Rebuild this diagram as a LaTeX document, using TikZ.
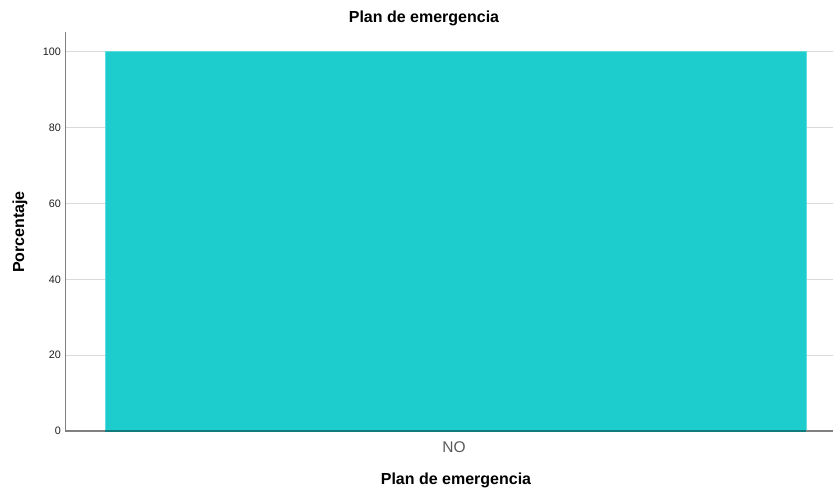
\documentclass[tikz,border=0pt]{standalone}
\usepackage{fontspec}
\setmainfont{Liberation Sans}
\definecolor{barc}{RGB}{29,205,205}
\definecolor{gridc}{RGB}{217,217,217}
\definecolor{axisc}{RGB}{128,128,128}
\definecolor{txtc}{RGB}{30,30,30}
\begin{document}
\begin{tikzpicture}[x=1pt,y=-1pt,
  ticklab/.style={anchor=east,font=\fontsize{10.8}{12}\selectfont,text=txtc,inner sep=0pt},
  titlelab/.style={font=\fontsize{16}{19}\selectfont\bfseries,text=black,inner sep=0pt},
  gridline/.style={draw=gridc,line width=1.2pt},
  axisline/.style={draw=axisc,line width=1.2pt}]
\useasboundingbox (0,0) rectangle (833,488);
% gridlines
\foreach \v/\yy in {0/431,20/355.2,40/279.4,60/203.6,80/127.8,100/51.5}{
  \draw[gridline] (65.5,\yy) -- (833,\yy);
  \node[ticklab] (t\v) at (61,\yy) {\v};
}
% bar
\fill[barc] (105,51.5) rectangle (806,431);
\draw[draw=barc!70!white,line width=0.6pt] (105,431) -- (105,51.5) -- (806,51.5) -- (806,431);
% axes
\draw[axisline] (65.5,32) -- (65.5,431) -- (833,431);
\draw[draw=barc!60!black,line width=1.2pt] (105,431) -- (806,431);
% labels
\node[titlelab] (title) at (424,18.5) {Plan de emergencia};
\node[titlelab] (xlab) at (456,480.5) {Plan de emergencia};
\node[titlelab,rotate=90] (ylab) at (20,232) {Porcentaje};
\node[font=\fontsize{15.5}{18}\selectfont,text=black!65,inner sep=0pt] (cat) at (454,447) {NO};
\end{tikzpicture}
\end{document}
